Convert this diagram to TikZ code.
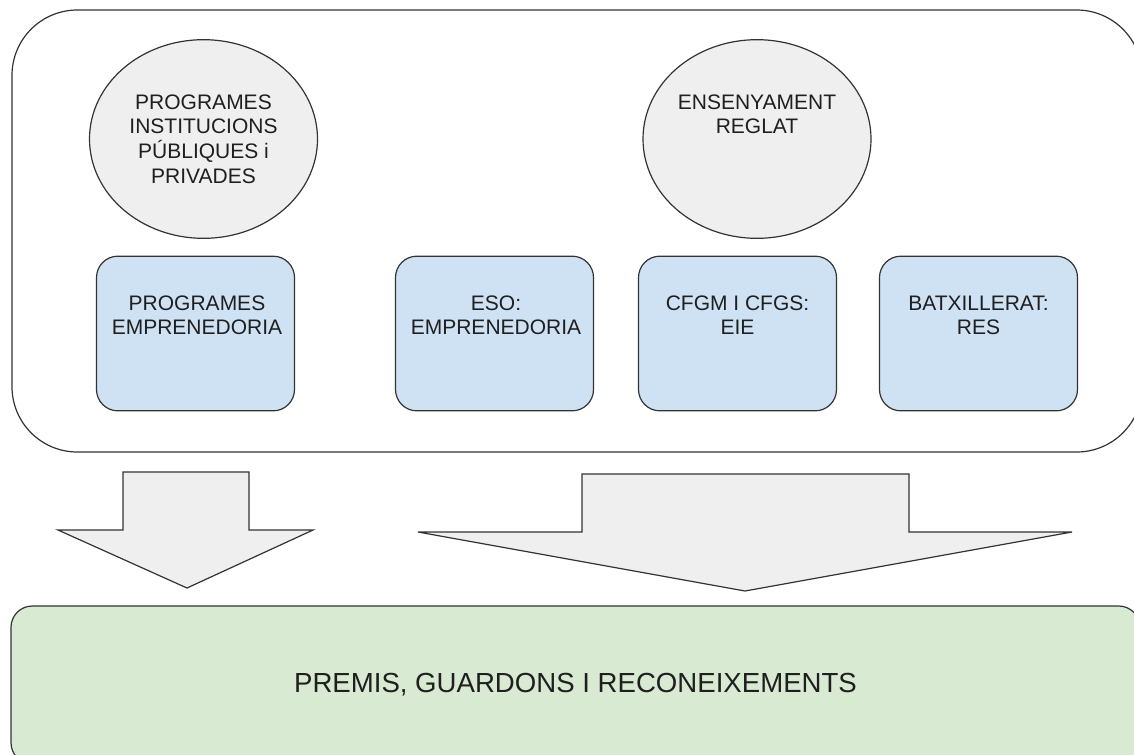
\documentclass[tikz,border=0pt]{standalone}
\usepackage{fontspec}
\setmainfont{Liberation Sans}
\usetikzlibrary{shapes.geometric,positioning}
\definecolor{ovalgray}{HTML}{EFEFEF}
\definecolor{boxblue}{HTML}{CFE2F3}
\definecolor{prizegreen}{HTML}{D9EAD3}
\definecolor{edgegray}{HTML}{333333}
\tikzset{
    oval/.style={ellipse, draw=edgegray, fill=ovalgray, line width=0.9pt,
        minimum width=171pt, minimum height=149pt, inner sep=0pt},
    course/.style={rectangle, rounded corners=16pt, draw=edgegray, fill=boxblue,
        line width=0.9pt, minimum width=148.5pt, minimum height=116pt, inner sep=0pt},
    boxtext/.style={anchor=north, align=center, inner sep=0pt, text=black!88,
        font=\fontsize{15.75}{18.4}\selectfont},
    bigarrow/.style={draw=edgegray, fill=ovalgray, line width=0.9pt, line join=miter},
}
\begin{document}
\begin{tikzpicture}[x=0.75pt, y=-0.75pt]
        \useasboundingbox (0,0) rectangle (1134,754);
        %% outer frame
        \draw[edgegray, line width=0.9pt, rounded corners=49pt] (12,10) rectangle (1142,452);
        %% public and private programmes
        \begin{scope}
            \node[oval] (pubprog) at (203.5,139) {};
            \node[boxtext] (pubprogtxt) at (203.5,94.5) {PROGRAMES\\INSTITUCIONS\\PÚBLIQUES i\\PRIVADES};
            \node[course] (empr) at (195.5,333.5) {};
            \node[boxtext] (emprtxt) at (197,295.5) {PROGRAMES\\EMPRENEDORIA};
        \end{scope}
        %% formal education
        \begin{scope}
            \node[oval] (reglat) at (757,139) {};
            \node[boxtext] (reglattxt) at (757,94.5) {ENSENYAMENT\\REGLAT};
            \node[course] (eso) at (494.5,333.5) {};
            \node[boxtext] (esotxt) at (496,295.5) {ESO:\\EMPRENEDORIA};
            \node[course] (cfgm) at (737.5,333.5) {};
            \node[boxtext] (cfgmtxt) at (737.5,295.5) {CFGM I CFGS:\\EIE};
            \node[course] (batx) at (978.5,333.5) {};
            \node[boxtext] (batxtxt) at (978.5,295.5) {BATXILLERAT:\\RES};
        \end{scope}
        %% block arrows
        \draw[bigarrow] (123,472) -- (249,472) -- (249,530) -- (313,530)
            -- (187,588) -- (58,530) -- (123,530) -- cycle;
        \draw[bigarrow] (582,474) -- (909,474) -- (909,532) -- (1072,532)
            -- (745,591) -- (418,532) -- (582,532) -- cycle;
        %% prizes
        \node[rectangle, rounded corners=16pt, draw=edgegray, fill=prizegreen, line width=0.9pt,
            minimum width=846.75pt, minimum height=118.5pt, text=black!88,
            font=\fontsize{20.7}{24}\selectfont] (prizes) at (575.5,685) {PREMIS, GUARDONS I RECONEIXEMENTS};
    \end{tikzpicture}
\end{document}
